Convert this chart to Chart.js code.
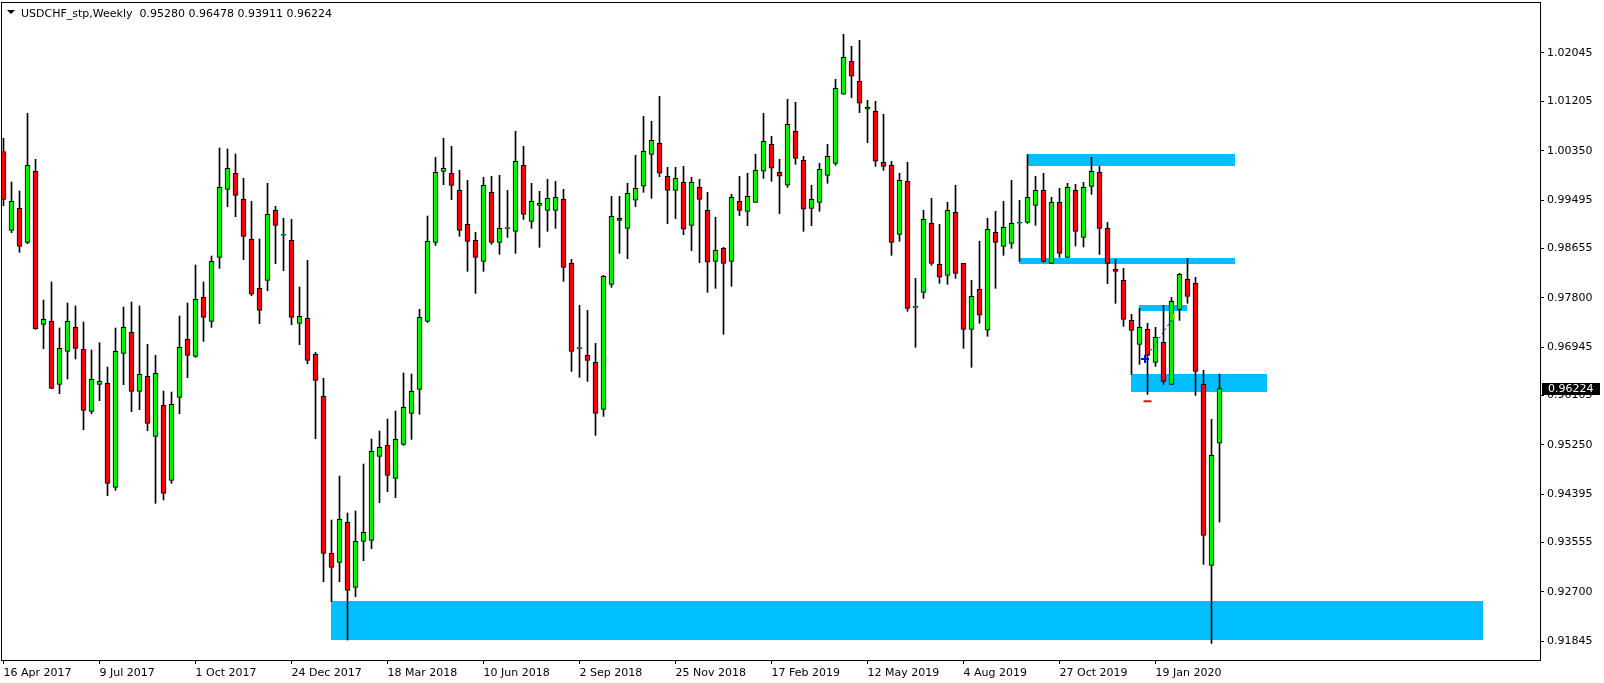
<!DOCTYPE html>
<html>
<head>
<meta charset="utf-8">
<title>USDCHF_stp,Weekly</title>
<script src="https://cdn.jsdelivr.net/npm/chart.js@4.4.1/dist/chart.umd.min.js"></script>
<style>
  html, body { margin: 0; padding: 0; background: #fff; }
  canvas { display: block; }
</style>
</head>
<body>
<canvas id="chart" width="1604" height="683"></canvas>
<script>
// =====================
// Data (weekly bars, 16 Apr 2017 .. 15 Mar 2020)
// =====================
const symbol = "USDCHF_stp";
const period = "Weekly";

const opens = [
  1.00334, 0.98970, 0.99352, 0.98762, 0.99993, 0.97340, 0.97392, 0.96300, 0.96872, 0.97288,
  0.96907, 0.95832, 0.96300, 0.96317, 0.94514, 0.96837, 0.97201, 0.96178, 0.96438, 0.95398,
  0.95936, 0.94635, 0.96074, 0.97080, 0.96785, 0.97808, 0.97392, 0.98502, 0.99681, 0.99959,
  0.99508, 0.98814, 0.97965, 0.98103, 0.99317, 0.98884, 0.98797, 0.97358, 0.97444, 0.96820,
  0.96092, 0.93369, 0.93213, 0.93907, 0.92780, 0.93578, 0.93595, 0.95051, 0.95242, 0.94670,
  0.95260, 0.95797, 0.96213, 0.97392, 0.98762, 0.99993, 0.99958, 0.99663, 0.99074, 0.98796,
  0.98432, 0.99629, 0.98762, 0.98999, 0.98952, 1.00097, 0.99126, 0.99403, 0.99316, 0.99316,
  0.99507, 0.98397, 0.96918, 0.96802, 0.96681, 0.95866, 0.98033, 0.99178, 0.99005, 0.99491,
  0.99734, 1.00288, 1.00479, 0.99907, 0.99664, 0.99803, 0.99057, 0.99716, 0.99317, 0.98433,
  0.98658, 0.98433, 0.99473, 0.99300, 0.99456, 0.99994, 1.00462, 0.99976, 0.99751, 1.00687,
  1.00184, 0.99352, 0.99456, 0.99924, 1.00132, 1.01329, 1.01901, 1.01554, 1.01069, 1.01034,
  1.00150, 1.00098, 0.98901, 0.99820, 0.97635, 0.97895, 0.99092, 0.98381, 0.98190, 0.99283,
  0.98398, 0.97254, 0.97948, 0.97237, 0.98936, 0.98693, 0.98745, 0.99092, 0.99108, 0.99403,
  0.99663, 0.98397, 0.99455, 0.98501, 0.99663, 0.98848, 0.99733, 0.99975, 0.99004, 0.98293,
  0.98103, 0.97409, 0.96993, 0.97253, 0.96681, 0.97028, 0.96299, 0.97600, 0.98120, 0.98051,
  0.96299, 0.93161, 0.95280
];
const highs = [
  1.00565, 0.99808, 0.99652, 1.00999, 1.00201, 0.97762, 0.98074, 0.97277, 0.97710, 0.97658,
  0.97381, 0.96895, 0.97022, 0.96600, 0.97277, 0.97641, 0.97727, 0.97658, 0.96993, 0.96803,
  0.96184, 0.96167, 0.97485, 0.97710, 0.98369, 0.98074, 0.98525, 1.00398, 1.00381, 1.00294,
  0.99872, 0.99473, 0.98820, 0.99785, 0.99386, 0.99178, 0.99161, 0.97988, 0.98450, 0.96855,
  0.96404, 0.93947, 0.94710, 0.94069, 0.94104, 0.94918, 0.95352, 0.95491, 0.95699, 0.95838,
  0.96496, 0.96479, 0.97600, 0.99218, 1.00235, 1.00565, 1.00426, 1.00010, 0.99837, 0.98935,
  0.99889, 0.99906, 0.99923, 0.99663, 1.00686, 1.00426, 0.99785, 0.99646, 0.99854, 0.99819,
  0.99681, 0.98467, 0.97669, 0.97582, 0.97010, 0.98189, 0.99559, 0.99559, 0.99786, 1.00271,
  1.00947, 1.00861, 1.01294, 1.00063, 1.00063, 1.00080, 0.99890, 0.99855, 0.99629, 0.99196,
  0.98676, 0.99595, 0.99907, 0.99959, 1.00288, 1.00999, 1.00601, 1.00202, 1.01242, 1.01190,
  1.00254, 0.99751, 1.00132, 1.00462, 1.01589, 1.02369, 1.02161, 1.02265, 1.01225, 1.01207,
  1.00982, 1.00167, 0.99959, 1.00150, 0.98138, 0.99317, 0.99525, 0.99075, 0.99456, 0.99751,
  0.98398, 0.98104, 0.98780, 0.99179, 0.99300, 0.99473, 0.99838, 0.99491, 1.00282, 0.99906,
  0.99958, 0.99542, 0.99698, 0.99785, 0.99767, 0.99802, 1.00235, 1.00079, 0.99108, 0.98467,
  0.98311, 0.97513, 0.97617, 0.97357, 0.97288, 0.97669, 0.97808, 0.98224, 0.98484, 0.98155,
  0.96542, 0.95692, 0.96478
];
const lows = [
  0.99398, 0.98930, 0.98589, 0.98739, 0.97253, 0.96918, 0.96225, 0.96138, 0.96392, 0.96739,
  0.95514, 0.95791, 0.96016, 0.94369, 0.94462, 0.96294, 0.95826, 0.95860, 0.95496, 0.94236,
  0.94294, 0.94583, 0.95791, 0.96415, 0.96768, 0.97045, 0.97288, 0.98311, 0.99381, 0.99207,
  0.98462, 0.97837, 0.97352, 0.97924, 0.98392, 0.98271, 0.97335, 0.96988, 0.96658, 0.95358,
  0.92878, 0.92531, 0.92878, 0.91866, 0.92618, 0.93242, 0.93450, 0.94248, 0.94439, 0.94335,
  0.95242, 0.95346, 0.95780, 0.97374, 0.98710, 0.99762, 0.99501, 0.98866, 0.98259, 0.97877,
  0.98259, 0.98727, 0.98554, 0.98848, 0.98571, 0.99160, 0.99004, 0.98675, 0.98952, 0.99004,
  0.98085, 0.96525, 0.96421, 0.96351, 0.95415, 0.95744, 0.97981, 0.98571, 0.98479, 0.99381,
  0.99629, 0.99525, 0.99901, 0.99086, 0.99173, 0.98895, 0.98618, 0.98410, 0.97895, 0.97965,
  0.97167, 0.97999, 0.99225, 0.99051, 0.99456, 0.99872, 0.99820, 0.99260, 0.99716, 1.00115,
  0.98953, 0.99051, 0.99300, 0.99786, 1.00098, 1.01329, 1.01271, 1.01011, 1.00491, 1.00080,
  1.00011, 0.98537, 0.98780, 0.97566, 0.96942, 0.97791, 0.98364, 0.98052, 0.98034, 0.98138,
  0.96924, 0.96595, 0.97358, 0.97133, 0.97965, 0.98537, 0.98658, 0.98433, 0.99091, 0.99056,
  0.98415, 0.98397, 0.98501, 0.98501, 0.98698, 0.98681, 0.99594, 0.98553, 0.98045, 0.97704,
  0.97305, 0.96473, 0.96646, 0.96126, 0.96611, 0.96299, 0.96299, 0.97409, 0.97704, 0.96109,
  0.93178, 0.91809, 0.93911
];
const closes = [
  0.99508, 0.99473, 0.98693, 1.00097, 0.97265, 0.97427, 0.96230, 0.96924, 0.97392, 0.96924,
  0.95849, 0.96386, 0.96352, 0.94583, 0.96872, 0.97288, 0.96178, 0.96473, 0.95623, 0.96490,
  0.94410, 0.95953, 0.96941, 0.96803, 0.97774, 0.97461, 0.98433, 0.99716, 1.00045, 0.99577,
  0.98866, 0.97861, 0.97583, 0.99248, 0.99057, 0.98884, 0.97462, 0.97479, 0.96716, 0.96369,
  0.93369, 0.93127, 0.93959, 0.92728, 0.93578, 0.93734, 0.95138, 0.95207, 0.94722, 0.95346,
  0.95901, 0.96179, 0.97462, 0.98779, 0.99975, 1.00045, 0.99750, 0.98970, 0.98779, 0.98501,
  0.99750, 0.98762, 0.99004, 0.98999, 1.00166, 0.99247, 0.99473, 0.99438, 0.99525, 0.99542,
  0.98328, 0.96872, 0.96918, 0.96715, 0.95796, 0.98172, 0.99212, 0.99143, 0.99612, 0.99699,
  1.00340, 1.00531, 0.99959, 0.99664, 0.99872, 0.98988, 0.99803, 0.99508, 0.98416, 0.98624,
  0.98398, 0.99543, 0.99317, 0.99560, 1.00011, 1.00514, 1.00046, 0.99907, 1.00809, 1.00219,
  0.99335, 0.99508, 1.00028, 1.00254, 1.01433, 1.01970, 1.01641, 1.01173, 1.01103, 1.00167,
  1.00080, 0.98762, 0.99838, 0.97618, 0.97635, 0.99161, 0.98398, 0.98156, 0.99317, 0.98225,
  0.97254, 0.97826, 0.97497, 0.98988, 0.98762, 0.99023, 0.99092, 0.99092, 0.99542, 0.99663,
  0.98432, 0.99455, 0.98571, 0.99715, 0.98952, 0.99715, 0.99993, 0.99004, 0.98397, 0.98259,
  0.97426, 0.97236, 0.97288, 0.96802, 0.97114, 0.96351, 0.97739, 0.98207, 0.97825, 0.96525,
  0.93681, 0.95068, 0.96224
];

// date labels every 12 bars
const dateTickIdx = [0, 12, 24, 36, 48, 60, 72, 84, 96, 108, 120, 132, 144];
const dateLabels = [
  "16 Apr 2017", "9 Jul 2017", "1 Oct 2017", "24 Dec 2017", "18 Mar 2018", "10 Jun 2018",
  "2 Sep 2018", "25 Nov 2018", "17 Feb 2019", "12 May 2019", "4 Aug 2019", "27 Oct 2019", "19 Jan 2020"
];
const priceTicks = [
  1.02045, 1.01205, 1.00350, 0.99495, 0.98655, 0.97800, 0.96945,
  0.96105, 0.95250, 0.94395, 0.93555, 0.92700, 0.91845
];

// supply / demand rectangles (bar index from..to, price high..low)
const zoneFrom = [128, 127, 142, 141, 41];
const zoneTo   = [154, 154, 148, 158, 185];
const zoneHigh = [1.00294, 0.98490, 0.97675, 0.96479, 0.92543];
const zoneLow  = [1.00091, 0.98391, 0.97577, 0.96172, 0.91872];

// trade arrow + history line
const tradeX = [142.69, 146.3];
const tradeY = [0.96739, 0.97473];
const stopX = [143];
const stopY = [0.96006];

// =====================
// Plugins
// =====================
const FONT = "'DejaVu Sans', 'Liberation Sans', sans-serif";
const bull = "#00f000";
const bear = "#ff0000";
const last = closes.length - 1;

const zones = {
  id: "zones",
  beforeDatasetsDraw(chart) {
    const { ctx, chartArea: a, scales: { x, y } } = chart;
    ctx.save();
    ctx.beginPath();
    ctx.rect(a.left, a.top, a.right - a.left, a.bottom - a.top);
    ctx.clip();
    ctx.fillStyle = "#00bfff";
    for (let i = 0; i < zoneFrom.length; i++) {
      const x1 = Math.floor(x.getPixelForValue(zoneFrom[i]));
      const x2 = Math.floor(x.getPixelForValue(zoneTo[i]));
      const y1 = Math.round(y.getPixelForValue(zoneHigh[i]));
      const y2 = Math.round(y.getPixelForValue(zoneLow[i]));
      ctx.fillRect(x1, y1, x2 - x1, y2 - y1);
    }
    ctx.restore();
  }
};

const frame = {
  id: "frame",
  afterDraw(chart) {
    const { ctx, chartArea: a, scales: { y } } = chart;
    ctx.save();
    ctx.strokeStyle = "#000";
    ctx.lineWidth = 1;
    ctx.strokeRect(a.left + 0.5, a.top + 0.5, a.right - a.left, a.bottom - a.top);

    // title
    ctx.fillStyle = "#000";
    ctx.font = "11px " + FONT;
    ctx.textBaseline = "alphabetic";
    const title = symbol + "," + period + "  " +
      [opens[last], highs[last], lows[last], closes[last]].map(v => v.toFixed(5)).join(" ");
    ctx.fillText(title, 21, 17);
    ctx.beginPath();
    ctx.moveTo(7, 10); ctx.lineTo(15, 10); ctx.lineTo(11, 14); ctx.closePath();
    ctx.fill();

    // current price marker on the axis
    const py = Math.round(y.getPixelForValue(closes[last]));
    ctx.fillRect(a.right + 2, py - 6, 58, 12);
    ctx.fillStyle = "#fff";
    ctx.textBaseline = "middle";
    ctx.fillText(closes[last].toFixed(5), a.right + 8, py + 0.5);
    ctx.restore();
  }
};

// =====================
// Chart
// =====================
const idx = opens.map((_, i) => i);

new Chart(document.getElementById("chart"), {
  type: "bar",
  data: {
    datasets: [
      {
        type: "scatter",
        data: [{ x: tradeX[0], y: tradeY[0] }, { x: stopX[0], y: stopY[0] }, { x: tradeX[1], y: tradeY[1] }],
        pointStyle: ["cross", "line", "line"],
        rotation: [0, 0, 90],
        pointRadius: [4, 4, 3],
        borderColor: ["#0000ff", "#ff0000", "#ffa500"],
        borderWidth: 2,
        order: 0
      },
      {
        type: "line",
        data: tradeX.map((v, i) => ({ x: v, y: tradeY[i] })),
        borderColor: "#0000ff",
        borderWidth: 1,
        borderDash: [2, 3],
        pointRadius: 0,
        order: 1
      },
      {
        data: idx.map(i => ({ x: i, y: [opens[i], closes[i]] })),
        backgroundColor: c => closes[c.dataIndex] >= opens[c.dataIndex] ? bull : bear,
        borderColor: "#000",
        borderWidth: 1,
        borderSkipped: false,
        barThickness: 5,
        minBarLength: 1,
        grouped: false,
        order: 2
      },
      {
        data: idx.map(i => ({ x: i, y: [lows[i], highs[i]] })),
        backgroundColor: "#000",
        borderWidth: 0,
        barThickness: 1,
        grouped: false,
        order: 3
      }
    ]
  },
  options: {
    responsive: false,
    animation: false,
    events: [],
    layout: { autoPadding: false, padding: { left: 1, top: 2, right: 0, bottom: 0 } },
    plugins: { legend: { display: false }, tooltip: { enabled: false } },
    scales: {
      x: {
        type: "linear",
        min: -0.3125,
        max: 192.0625,
        offset: false,
        afterFit(s) { s.height = 23; s.paddingLeft = 0; s.paddingRight = 0; },
        afterBuildTicks(s) { s.ticks = dateTickIdx.map(v => ({ value: v })); },
        grid: { drawOnChartArea: false, drawTicks: true, tickLength: 4, color: "#000", offset: false },
        border: { display: false },
        ticks: {
          autoSkip: false, maxRotation: 0, align: "start", padding: 3,
          color: "#000", font: { family: FONT, size: 11 },
          callback: (v, i) => dateLabels[i]
        }
      },
      y: {
        type: "linear",
        position: "right",
        min: 0.91520,
        max: 1.02929,
        beginAtZero: false,
        afterFit(s) { s.width = 64; s.paddingTop = 0; s.paddingBottom = 0; },
        afterBuildTicks(s) { s.ticks = priceTicks.map(v => ({ value: v })); },
        grid: { drawOnChartArea: false, drawTicks: true, tickLength: 4, color: "#000" },
        border: { display: false },
        ticks: {
          autoSkip: false, padding: 3,
          color: "#000", font: { family: FONT, size: 11 },
          callback: v => v.toFixed(5)
        }
      }
    }
  },
  plugins: [zones, frame]
});
</script>
</body>
</html>
